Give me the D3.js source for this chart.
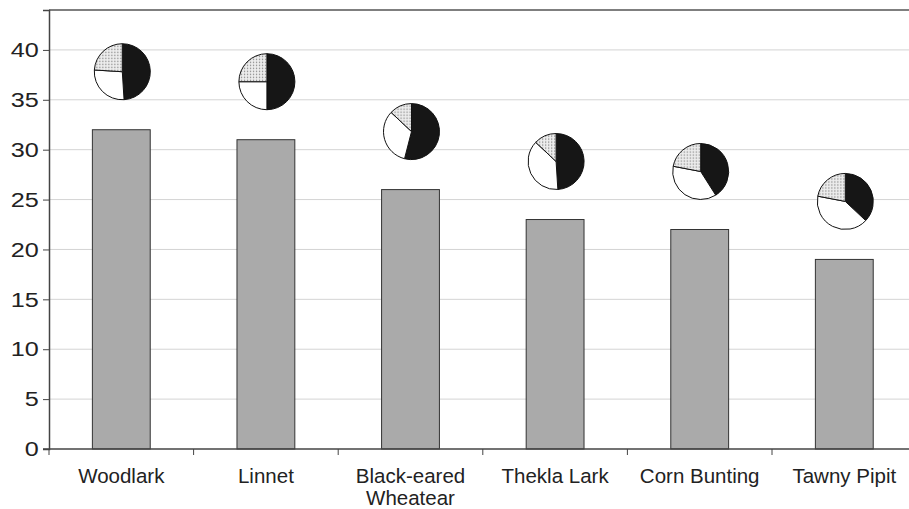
<!DOCTYPE html>
<html>
<head>
<meta charset="utf-8">
<script src="https://cdn.jsdelivr.net/npm/d3@7"></script>
<style>
  body { margin: 0; background: #fff; }
  svg { display: block; font-family: "Liberation Sans", Arial, sans-serif; }
</style>
</head>
<body>
<div id="chart"></div>
<script>
// data
const species = ["Woodlark", "Linnet", "Black-eared Wheatear", "Thekla Lark", "Corn Bunting", "Tawny Pipit"];
const counts = [32, 31, 26, 23, 22, 19];
// pie shares, in drawing order clockwise from 12 o'clock
const blackShare  = [49, 50, 54, 49, 41, 37];
const whiteShare  = [27, 25, 33, 38, 37, 41];
const dottedShare = [24, 25, 13, 13, 22, 22];
const yTicks = [0, 5, 10, 15, 20, 25, 30, 35, 40];

const W = 909, H = 509;
const plotLeft = 49, plotBottom = 449, plotTop = 10;
const step = 144.6;

const svg = d3.select("#chart").append("svg")
  .attr("width", W).attr("height", H);

const defs = svg.append("defs");
const pat = defs.append("pattern")
  .attr("id", "dots").attr("patternUnits", "userSpaceOnUse")
  .attr("width", 3).attr("height", 3);
pat.append("rect").attr("width", 3).attr("height", 3).attr("fill", "#eeeeee");
pat.append("rect").attr("x", 1).attr("y", 1).attr("width", 1.2).attr("height", 1.2).attr("fill", "#777");

const x = d3.scaleBand()
  .domain(species)
  .range([plotLeft, plotLeft + step * species.length])
  .padding(0);

const y = d3.scaleLinear()
  .domain([0, 44])
  .range([plotBottom, plotTop]);

// gridlines
svg.append("g")
  .selectAll("line")
  .data(yTicks.filter(d => d > 0))
  .enter().append("line")
  .attr("x1", plotLeft).attr("x2", W)
  .attr("y1", d => y(d)).attr("y2", d => y(d))
  .attr("stroke", "#d4d4d4").attr("stroke-width", 1);

// top frame line
svg.append("line")
  .attr("x1", plotLeft).attr("x2", W)
  .attr("y1", y(44)).attr("y2", y(44))
  .attr("stroke", "#555").attr("stroke-width", 1.5);

// bars
const barW = x.bandwidth() * 0.4;
svg.selectAll(".bar")
  .data(counts)
  .enter().append("rect")
  .attr("class", "bar")
  .attr("x", (d, i) => x(species[i]) + (x.bandwidth() - barW) / 2)
  .attr("y", d => y(d))
  .attr("width", barW)
  .attr("height", d => plotBottom - y(d))
  .attr("fill", "#aaaaaa")
  .attr("stroke", "#333").attr("stroke-width", 1);

// y axis
const yAxis = svg.append("g")
  .attr("transform", `translate(${plotLeft},0)`)
  .call(d3.axisLeft(y).tickValues(yTicks).tickSize(6).tickPadding(5));
yAxis.select(".domain").attr("stroke", "#444").attr("stroke-width", 1.5);
yAxis.selectAll(".tick line").attr("stroke", "#444");
// digits in the reference are drawn a bit wider than plain Arial
yAxis.selectAll("text")
  .attr("x", -8.5)
  .attr("transform", "scale(1.2,1)")
  .style("font-size", "21px")
  .style("fill", "#222")
  .style("font-family", "'Liberation Sans', Arial, sans-serif");

// x axis
const xAxis = svg.append("g")
  .attr("transform", `translate(0,${plotBottom})`);
xAxis.append("line")
  .attr("x1", plotLeft - 6).attr("x2", W)
  .attr("stroke", "#444").attr("stroke-width", 1.5);
xAxis.selectAll(".xtick")
  .data(species)
  .enter().append("line")
  .attr("class", "xtick")
  .attr("x1", d => x(d)).attr("x2", d => x(d))
  .attr("y1", 0).attr("y2", 6)
  .attr("stroke", "#444");

const labels = xAxis.selectAll(".xlabel")
  .data(species)
  .enter().append("text")
  .attr("class", "xlabel")
  .attr("text-anchor", "middle")
  .attr("x", d => x(d) + x.bandwidth() / 2)
  .attr("y", 34)
  .style("font-size", "20.5px")
  .style("fill", "#222");
labels.each(function(d) {
  const t = d3.select(this);
  const parts = d === "Black-eared Wheatear" ? ["Black-eared", "Wheatear"] : [d];
  parts.forEach((p, k) => {
    t.append("tspan")
      .attr("x", x(d) + x.bandwidth() / 2)
      .attr("dy", k === 0 ? 0 : 22)
      .text(p);
  });
});

// pies above bars
const pie = d3.pie().sort(null).value(d => d);
const arc = d3.arc().innerRadius(0).outerRadius(28);
const fills = ["#161616", "#ffffff", "url(#dots)"];
const pieLift = 58;

species.forEach((s, i) => {
  const g = svg.append("g")
    .attr("transform", `translate(${x(s) + x.bandwidth() / 2 + 1},${y(counts[i]) - pieLift})`);
  g.selectAll("path")
    .data(pie([blackShare[i], whiteShare[i], dottedShare[i]]))
    .enter().append("path")
    .attr("d", arc)
    .attr("fill", (d, k) => fills[k])
    .attr("stroke", "#111").attr("stroke-width", 1);
});
</script>
</body>
</html>
